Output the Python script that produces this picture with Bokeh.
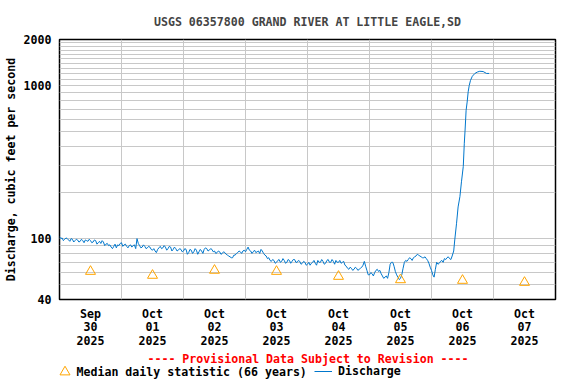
import pandas as pd
from bokeh.plotting import figure
from bokeh.layouts import column
from bokeh.models import (ColumnDataSource, FixedTicker, Legend, LegendItem,
                          Label, Range1d)
from bokeh.embed import file_html
from bokeh.resources import INLINE

# ---------------- data ----------------
START = pd.Timestamp("2025-09-30 00:00")

# discharge (cfs) on the hour, hours since Sep 30 00:00 (0..152)
hourly_cfs = [
    103, 101, 99, 100, 96, 99, 97, 98, 96, 97, 98, 96, 97, 95, 97, 94, 93, 95, 92, 90, 88, 89, 87, 90,
    94, 91, 89, 90, 88, 91, 100, 90, 88, 89, 87, 88, 84, 83, 85, 89, 87, 88, 86, 88, 85, 86, 84, 85,
    83, 85, 81, 84, 82, 84, 82, 83, 85, 86, 84, 85, 83, 81, 82, 80, 81, 78, 76, 75, 78, 81, 82, 83,
    82, 88, 83, 82, 81, 83, 85, 80, 77, 75, 71, 72, 70, 73, 71, 72, 70, 72, 71, 73, 70, 71, 69, 70,
    68, 67, 70, 69, 72, 70, 71, 69, 73, 70, 71, 72, 70, 69, 71, 66, 63, 64, 63, 64, 63, 65, 71, 62,
    58, 59, 60, 63, 62, 57, 56, 55, 68, 70, 61, 56, 55, 64, 72, 73, 74, 75, 77, 78, 76, 75, 74, 69,
    62, 56, 70, 69, 72, 74, 75, 74, 77,
]
# discharge (cfs) at half past each hour (0.5..151.5)
half_hour_cfs = [
    100, 97, 101, 98, 100, 95, 99, 95, 99, 94, 97, 99, 94, 98, 92, 96, 97, 90, 93, 91, 86, 92, 91, 93,
    89, 92, 87, 91, 90, 86, 93, 87, 91, 86, 89, 85, 86, 81, 87, 86, 90, 84, 89, 83, 88, 83, 86, 82,
    86, 79, 85, 80, 86, 79, 85, 80, 87, 83, 86, 82, 80, 83, 79, 82, 79, 77, 75, 78, 80, 83, 80, 84,
    85, 84, 80, 84, 82, 80, 83, 78, 74, 72, 73, 69, 72, 70, 74, 69, 73, 69, 73, 70, 72, 68, 71, 67,
    70, 69, 72, 67, 70, 73, 68, 72, 70, 73, 68, 70, 72, 70, 67, 64, 65, 62, 65, 62, 64, 67, 66, 58,
    60, 57, 62, 61, 59, 55, 57, 60, 70, 66, 58, 54, 58, 70, 71, 75, 72, 76, 79, 77, 75, 76, 72, 65,
    58, 63, 68, 71, 70, 73, 76, 73,
]

# rising limb (hours since Sep 30 00:00, cfs)
rise_hours = [152.6, 153.0, 153.7, 154.3, 155.0, 155.6, 156.3, 156.7, 157.0, 157.4,
              157.8, 158.2, 158.6, 159.1, 159.8, 160.8, 161.7, 162.7, 164.0, 165.3, 166.3]
rise_cfs = [83, 98, 126, 161, 188, 235, 296, 420, 512, 690,
            780, 910, 1000, 1082, 1150, 1200, 1225, 1240, 1235, 1200, 1200]

# median daily statistic (66 years), at noon of each day
median_dates = ["2025-09-30 12:00", "2025-10-01 12:00", "2025-10-02 12:00", "2025-10-03 12:00",
                "2025-10-04 12:00", "2025-10-05 12:00", "2025-10-06 12:00", "2025-10-07 12:00"]
median_cfs = [61.0, 57.5, 62.0, 61.0, 56.6, 53.8, 53.3, 51.7]

x_tick_labels = ["Sep\n30\n2025", "Oct\n01\n2025", "Oct\n02\n2025", "Oct\n03\n2025",
                 "Oct\n04\n2025", "Oct\n05\n2025", "Oct\n06\n2025", "Oct\n07\n2025"]
y_tick_values = [40, 100, 1000, 2000]
y_grid_values = ([40, 50, 60, 70, 80, 90, 100] + list(range(200, 1001, 100))
                 + list(range(1100, 2001, 100)))

TITLE = "USGS 06357800 GRAND RIVER AT LITTLE EAGLE,SD"
Y_LABEL = "Discharge, cubic feet per second"
NOTE = "---- Provisional Data Subject to Revision ----"
LEGEND_MEDIAN = "Median daily statistic (66 years)"
LEGEND_Q = "Discharge"

# ---------------- build ----------------
FONT = "DejaVu Sans Mono"
FS = "11.6px"
Q_COLOR = "#0077cc"
MED_COLOR = "#ffa500"

pairs = ([(float(h), q) for h, q in enumerate(hourly_cfs)]
         + [(h + 0.5, q) for h, q in enumerate(half_hour_cfs)]
         + list(zip(rise_hours, rise_cfs)))
pairs.sort(key=lambda hq: hq[0])
times = [START + pd.Timedelta(hours=h) for h, _ in pairs]
cfs = [q for _, q in pairs]
line_src = ColumnDataSource(dict(t=times, q=cfs))
med_src = ColumnDataSource(dict(t=pd.to_datetime(median_dates), q=median_cfs))

def ms(ts):
    return (pd.Timestamp(ts) - pd.Timestamp("1970-01-01")).total_seconds() * 1000.0

x0 = ms(START)
x1 = ms(START + pd.Timedelta(days=8))
noon_ticks = [ms(d) for d in median_dates]
midnight_ticks = [ms(START + pd.Timedelta(days=i)) for i in range(1, 8)]

p = figure(width=576, height=350, x_axis_type="datetime", y_axis_type="log",
           x_range=Range1d(x0, x1), y_range=Range1d(40, 2000),
           output_backend="svg", toolbar_location=None,
           min_border_left=58, min_border_right=21, min_border_top=39, min_border_bottom=50)

p.background_fill_color = "white"
p.border_fill_color = "white"
p.outline_line_color = "black"
p.outline_line_width = 1.5

p.title.text = TITLE
p.title.align = "center"
p.title.text_font = FONT
p.title.text_font_style = "bold"
p.title.text_font_size = FS
p.title.standoff = 21

# grids
p.xgrid.ticker = FixedTicker(ticks=midnight_ticks)
p.ygrid.ticker = FixedTicker(ticks=y_grid_values)
for g in (p.xgrid[0], p.ygrid[0]):
    g.grid_line_color = "#c8c8c8"
    g.grid_line_width = 1

# x axis
xa = p.xaxis[0]
xa.ticker = FixedTicker(ticks=noon_ticks)
xa.major_label_overrides = {t: lab for t, lab in zip(noon_ticks, x_tick_labels)}
xa.major_tick_line_color = None
xa.minor_tick_line_color = None
xa.major_tick_out = 0
xa.major_tick_in = 0
xa.minor_tick_out = 0
xa.axis_line_color = None
xa.major_label_standoff = 7
xa.major_label_text_font = FONT
xa.major_label_text_font_style = "bold"
xa.major_label_text_font_size = FS
xa.major_label_text_line_height = 0.97
xa.major_label_text_color = "black"

# y axis
ya = p.yaxis[0]
ya.ticker = FixedTicker(ticks=y_tick_values)
ya.major_label_overrides = {v: str(v) for v in y_tick_values}
ya.major_tick_line_color = None
ya.minor_tick_line_color = None
ya.major_tick_out = 0
ya.major_tick_in = 0
ya.minor_tick_out = 0
ya.axis_line_color = None
ya.major_label_standoff = 8
ya.major_label_text_font = FONT
ya.major_label_text_font_style = "bold"
ya.major_label_text_font_size = FS
ya.major_label_text_color = "black"
ya.axis_label = Y_LABEL
ya.axis_label_text_font = FONT
ya.axis_label_text_font_style = "bold"
ya.axis_label_text_font_size = FS
ya.axis_label_text_color = "black"
ya.axis_label_standoff = 3

# glyphs
p.line("t", "q", source=line_src, line_color=Q_COLOR, line_width=1)
p.scatter("t", "q", source=med_src, marker="triangle", size=10,
          fill_color=None, line_color=MED_COLOR, line_width=1)

# ---- footer strip: provisional note + legend ----
# (its frame is aligned with the main plot's frame: x from 58 to 555)
foot = figure(width=576, height=34, output_backend="svg", toolbar_location=None,
              x_range=Range1d(0, 1), y_range=Range1d(0, 1),
              x_axis_location=None, y_axis_location=None,
              min_border=0, min_border_left=0, min_border_right=0,
              min_border_top=0, min_border_bottom=0)
foot.grid.visible = False
foot.outline_line_color = None
foot.background_fill_color = "white"
foot.border_fill_color = "white"

# legend keys use the same data (outside this strip's ranges, so only the keys show)
key_line = foot.line("t", "q", source=line_src, line_color=Q_COLOR, line_width=1)
key_med = foot.scatter("t", "q", source=med_src, marker="triangle", size=10, fill_color=None,
                       line_color=MED_COLOR, line_width=1)

foot.add_layout(Label(x=248.5, y=26, x_units="screen", y_units="screen", text=NOTE,
                      text_color="red", text_align="center", text_baseline="middle",
                      text_font=FONT, text_font_style="bold", text_font_size=FS))

common = dict(orientation="horizontal", padding=0, margin=0, spacing=0,
              border_line_color=None, background_fill_alpha=0,
              label_text_font=FONT, label_text_font_style="bold",
              label_text_font_size=FS, label_text_color="black")
leg_med = Legend(items=[LegendItem(label=LEGEND_MEDIAN, renderers=[key_med])],
                 location=(-7.5, 0), glyph_width=25, glyph_height=25, label_height=25,
                 label_standoff=0, **common)
leg_q = Legend(items=[LegendItem(label=LEGEND_Q, renderers=[key_line])],
               location=(255, 6), glyph_width=18, glyph_height=12, label_height=12,
               label_standoff=6, **common)
foot.add_layout(leg_med)
foot.add_layout(leg_q)

layout = column(p, foot, spacing=0)
open("out.html", "w").write(file_html(layout, INLINE))
